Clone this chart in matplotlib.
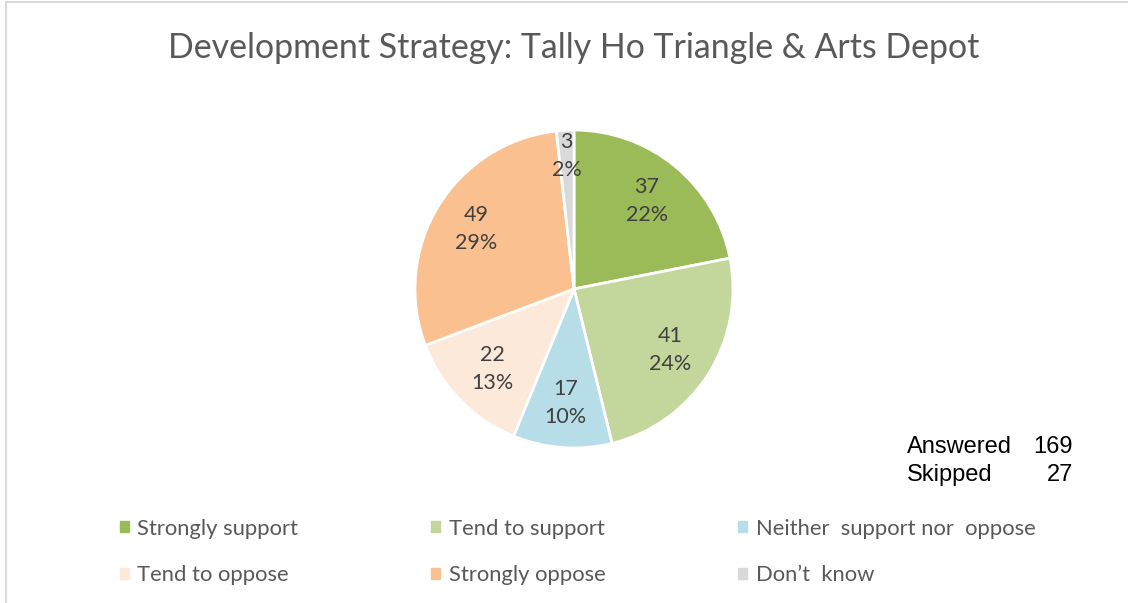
import matplotlib.pyplot as plt
import matplotlib.patches as mpatches
import numpy as np

categories = ["Strongly support", "Tend to support", "Neither  support nor  oppose",
              "Tend to oppose", "Strongly oppose", "Don\u2019t  know"]
counts = [37, 41, 17, 22, 49, 3]
colors = ["#9BBB59", "#C3D69B", "#B7DEE8", "#FDE9D9", "#FAC090", "#D9D9D9"]
answered = 169
skipped = 27

W, H = 1128, 603
fig = plt.figure(figsize=(W / 100, H / 100), dpi=100)
font = "Lato"

# light frame of the chart area
fig.patches.append(mpatches.Rectangle((6 / W, -0.1), 1.2, (H - 2) / H + 0.1,
                                      transform=fig.transFigure, fill=False,
                                      edgecolor="#D9D9D9", linewidth=1.5))

fig.text(574 / W, 1 - 48 / H, "Development Strategy: Tally Ho Triangle & Arts Depot",
         ha="center", va="center", fontsize=24.4, color="#595959", family=font)

cx, cy, r = 574, 289, 159
ax = fig.add_axes([(cx - r) / W, (H - cy - r) / H, 2 * r / W, 2 * r / H])
total = sum(counts)


def fmt(p):
    n = int(round(p * total / 100))
    return f"{n}\n{p:.0f}%"


wedges, texts, autotexts = ax.pie(counts, colors=colors, startangle=90, counterclock=False,
                                  autopct=fmt, pctdistance=0.72,
                                  wedgeprops=dict(edgecolor="white", linewidth=2),
                                  textprops=dict(fontsize=15.5, color="#404040", family=font,
                                                 linespacing=1.5))
# the tiny slice label sits further out
w = wedges[-1]
mid = np.deg2rad((w.theta1 + w.theta2) / 2)
autotexts[-1].set_position((0.84 * np.cos(mid), 0.84 * np.sin(mid)))
ax.set_xlim(-1, 1)
ax.set_ylim(-1, 1)

side = dict(va="center", fontsize=17, family="Liberation Sans", color="black")
fig.text(907 / W, 1 - 447 / H, "Answered", ha="left", **side)
fig.text(1073 / W, 1 - 447 / H, str(answered), ha="right", **side)
fig.text(907 / W, 1 - 475 / H, "Skipped", ha="left", **side)
fig.text(1073 / W, 1 - 475 / H, str(skipped), ha="right", **side)

handles = [mpatches.Patch(color=c, label=l) for c, l in zip(colors, categories)]
order = [0, 3, 1, 4, 2, 5]
fig.legend([handles[i] for i in order], [categories[i] for i in order],
           ncol=3, loc="upper left", bbox_to_anchor=(111 / W, 1 - 510 / H),
           borderaxespad=0, frameon=False, handlelength=0.4, handleheight=0.4,
           handletextpad=0.4, columnspacing=6.05, labelspacing=1.2,
           prop=dict(family=font, size=15.8), labelcolor="#595959")

fig.savefig("out.png", dpi=100)
